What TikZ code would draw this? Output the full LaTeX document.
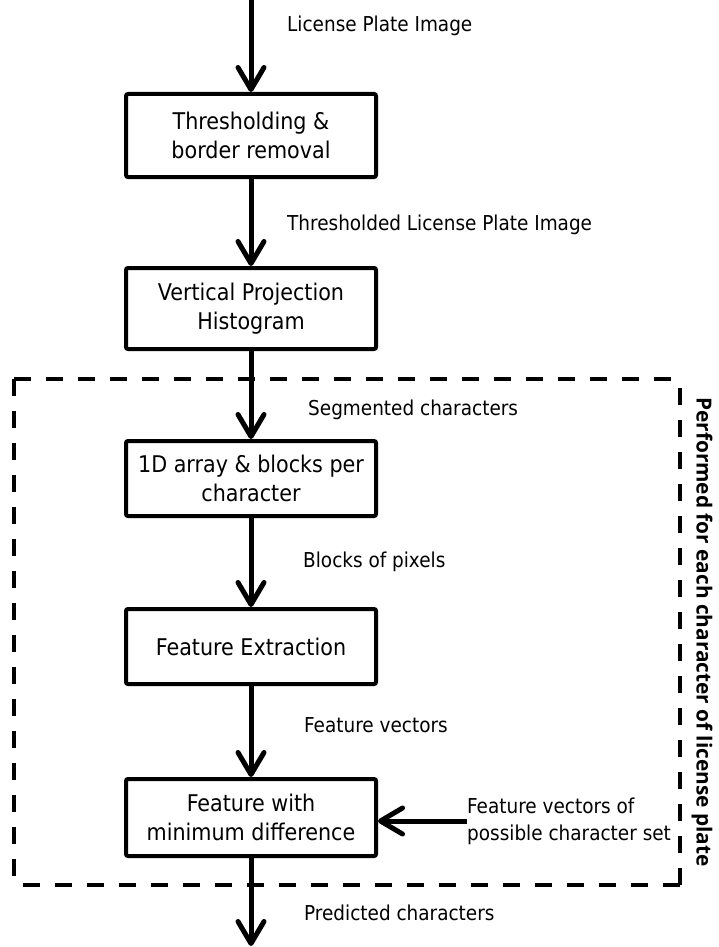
\documentclass[tikz,border=0pt]{standalone}
\usepackage{fontspec}
\setmainfont{DejaVu Sans Condensed}
\newfontfamily\sidefont{Open Sans}
\usetikzlibrary{arrows.meta}

\tikzset{
  stage/.style={draw=black, line width=4pt, rounded corners=2pt, fill=white,
    minimum width=250pt, align=center, font=\fontsize{23}{29}\selectfont, inner sep=0pt},
  flowarrow/.style={line width=5pt,
    -{Straight Barb[length=22pt, width=26pt, line cap=round, line join=round]}},
  flowlabel/.style={anchor=base west, inner sep=0pt, font=\fontsize{20.5}{27}\selectfont},
  group/.style={line width=4pt, dash pattern=on 17pt off 15pt}
}

\begin{document}
\begin{tikzpicture}[x=1pt, y=-1pt]
  \useasboundingbox (0,0) rectangle (718,947);

  % processing stages
  \node[stage, minimum height=83pt] (thr)  at (251,135.5) {Thresholding \&\\border removal};
  \node[stage, minimum height=81pt] (vph)  at (251,308.5) {Vertical Projection\\Histogram};
  \node[stage, minimum height=75pt] (blk)  at (251,478.5) {1D array \& blocks per\\character};
  \node[stage, minimum height=75pt] (fex)  at (251,646.5) {Feature Extraction};
  \node[stage, minimum height=77pt] (fmd)  at (251,817.5) {Feature with\\minimum difference};

  \coordinate (src) at (251,0);
  \coordinate (dst) at (251,946);

  % per-character loop boundary
  \coordinate (gtl) at (14,379);
  \coordinate (gtr) at (680,379);
  \coordinate (gbl) at (14,885);
  \coordinate (gbr) at (680,885);
  \draw[group] (gtl) -- (gtr);
  \draw[group] (gtl) -- (gbl);
  \draw[group] (gbr) -- (gtr);
  \draw[group] (gbr) -- (gbl);

  % flow between stages
  \draw[flowarrow] (src) -- (thr.north);
  \draw[flowarrow] (thr.south) -- (vph.north);
  \draw[flowarrow] (vph.south) -- (blk.north);
  \draw[flowarrow] (blk.south) -- (fex.north);
  \draw[flowarrow] (fex.south) -- (fmd.north);
  \draw[flowarrow] (fmd.south) -- (dst);

  % data labels
  \node[flowlabel] (l1) at (287,32)  {License Plate Image};
  \node[flowlabel] (l2) at (287,230) {Thresholded License Plate Image};
  \node[flowlabel] (l3) at (308,415) {Segmented characters};
  \node[flowlabel] (l4) at (303,567) {Blocks of pixels};
  \node[flowlabel] (l5) at (304,732) {Feature vectors};
  \node[flowlabel] (l6) at (304,920) {Predicted characters};

  % reference feature set entering the comparison stage
  \node[anchor=west, align=left, inner sep=0pt, font=\fontsize{20.5}{27}\selectfont]
    (ref) at (467,821) {Feature vectors of\\possible character set};
  \draw[flowarrow] (ref.west) -- (ref.west -| fmd.east);

  % loop caption
  \node[rotate=-90, inner sep=0pt, font=\sidefont\bfseries\fontsize{20.8}{25}\selectfont]
    (loop) at (702,632) {Performed for each character of license plate};
\end{tikzpicture}
\end{document}
